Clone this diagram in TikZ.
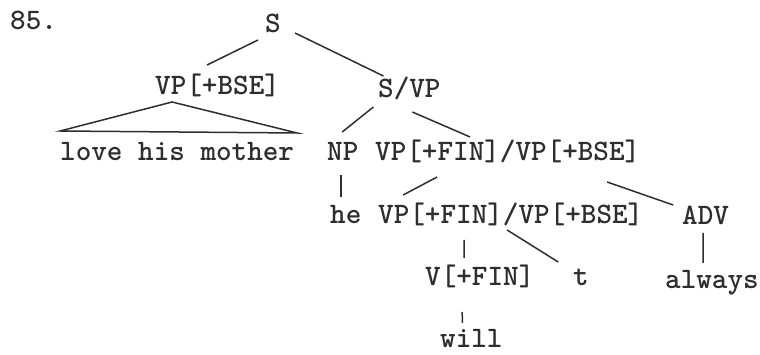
\documentclass[tikz,border=0pt]{standalone}
\definecolor{tInk}{HTML}{2E2E2E}

\begin{document}
\begin{tikzpicture}[x=1pt, y=-1pt,
  cat/.style={inner sep=0pt, anchor=base west, text=tInk,
              font=\fontsize{29.7}{32}\selectfont\ttfamily\bfseries},
  branch/.style={draw=tInk, line width=1.5pt}]
  \useasboundingbox (0,0) rectangle (760,355);
  % example number
  \node[cat] (num) at (10,30) {85.};
  % row 1 and 2: top of the tree
  \node[cat] (s)   at (265,33) {S};
  \node[cat] (vpb) at (155,95) {VP[+BSE]};
  \node[cat] (svp) at (378,98) {S/VP};
  % row 3
  \node[cat] (lhm)  at (60,161)  {love his mother};
  \node[cat] (np)   at (327,161) {NP};
  \node[cat] (vpf1) at (375,161) {VP[+FIN]/VP[+BSE]};
  % row 4
  \node[cat] (he)   at (330,224) {he};
  \node[cat] (vpf2) at (378,224) {VP[+FIN]/VP[+BSE]};
  \node[cat] (adv)  at (682,225) {ADV};
  % row 5 and 6
  \node[cat] (vfin) at (425,286) {V[+FIN]};
  \node[cat] (t)    at (573,286) {t};
  \node[cat] (alw)  at (665,288) {always};
  \node[cat] (will) at (440,347) {will};
  % branches
  \draw[branch] ([shift={(-15,7)}]s.base) -- ([shift={(-10.5,-30)}]vpb.base);
  \draw[branch] ([shift={(22,0)}]s.base) -- ([shift={(-26,-22)}]svp.base);
  \draw[branch] ([shift={(-117,-30)}]lhm.base) -- ([shift={(-45.5,7)}]vpb.base)
                -- ([shift={(120,-28)}]lhm.base) -- cycle;
  \draw[branch] ([shift={(-36,9)}]svp.base) -- ([shift={(-0.6,-29)}]np.base);
  \draw[branch] ([shift={(3,14)}]svp.base) -- ([shift={(-37.6,-24)}]vpf1.base);
  \draw[branch] ([shift={(-1.6,14)}]np.base) -- ([shift={(-4.6,-27)}]he.base);
  \draw[branch] ([shift={(-70.6,16)}]vpf1.base) -- ([shift={(-107.6,-29)}]vpf2.base);
  \draw[branch] ([shift={(99.4,21)}]vpf1.base) -- ([shift={(-32.4,-20)}]adv.base);
  \draw[branch] ([shift={(-46.6,16)}]vpf2.base) -- ([shift={(-15.6,-28)}]vfin.base);
  \draw[branch] ([shift={(-3.6,6)}]vpf2.base) -- ([shift={(-22.8,-24)}]t.base);
  \draw[branch] ([shift={(-2.4,8)}]adv.base) -- ([shift={(-8.8,-25)}]alw.base);
  \draw[branch] ([shift={(-17.6,26)}]vfin.base) -- ([shift={(-9,-24)}]will.base);
\end{tikzpicture}
\end{document}
